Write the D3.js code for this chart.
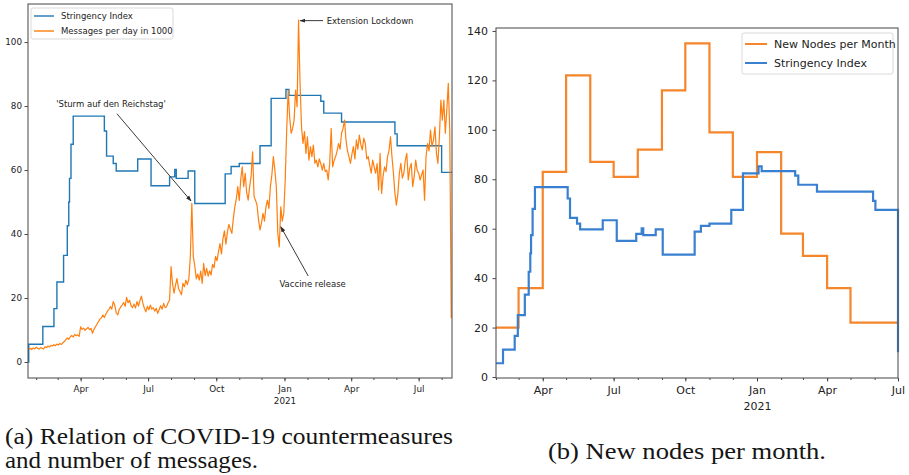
<!DOCTYPE html>
<html>
<head>
<meta charset="utf-8">
<script src="https://cdn.jsdelivr.net/npm/d3@7"></script>
<style>
  body { margin: 0; background: #fff; }
  svg { display: block; }
</style>
</head>
<body>
<svg id="chart" width="909" height="475"></svg>
<script>
const parse = d3.utcParse('%Y-%m-%d');

// Stringency index, as change points (value holds until the next date)
const stringencyDates = [
  '2020-01-21', '2020-01-22', '2020-02-10', '2020-02-25', '2020-02-29', '2020-03-09',
  '2020-03-14', '2020-03-16', '2020-03-17', '2020-03-19', '2020-03-22', '2020-05-03',
  '2020-05-06', '2020-05-15', '2020-05-19', '2020-06-17', '2020-07-05', '2020-07-30',
  '2020-08-06', '2020-08-08', '2020-08-24', '2020-09-02', '2020-10-13', '2020-10-21',
  '2020-11-01', '2020-11-29', '2020-12-14', '2021-01-03', '2021-01-07', '2021-02-19',
  '2021-02-23', '2021-03-19', '2021-05-30', '2021-06-02', '2021-08-01', '2021-08-15'
];
const stringencyValues = [
  0, 5.56, 11.11, 16.67, 25.0, 33.33,
  42.59, 50.0, 57.41, 68.06, 76.85, 72.22,
  64.35, 62.04, 59.72, 63.43, 55.09, 57.87,
  60.19, 57.41, 59.72, 49.54, 58.8, 61.11,
  62.04, 67.59, 82.41, 85.19, 83.33, 81.48,
  77.78, 75.0, 71.3, 67.59, 59.26, 59.26
];
// last value of the stringency line in panel (b), at its right edge
const stringencyEndB = 10;

// Messages per day in 1000, one value every second day
const msgStart = '2020-01-22';
const msgStepDays = 2;
const msgValues = [
  4.0, 4.3, 3.9, 4.4, 4.1, 4.6, 4.2, 4.0, 4.5, 4.3, 4.1, 4.8, 4.5,
  5.0, 4.7, 5.2, 5.0, 5.4, 5.1, 5.6, 5.3, 5.8, 5.5, 6.0, 6.4,
  7.0, 7.5, 7.1, 7.9, 8.3, 7.8, 8.6, 8.2, 8.5, 8.0,
  11.0, 10.2, 10.6, 9.9, 10.4, 10.8, 10.1, 10.5, 9.0, 10.2, 11.0, 11.8, 12.6, 13.4,
  13.8, 14.7, 13.9, 14.9, 15.8, 16.4, 17.3, 16.5, 18.9, 17.8, 15.4, 14.7, 16.4, 17.2,
  17.8, 18.6, 17.4, 20.2, 18.5, 19.3, 17.6, 17.0, 18.1, 16.9, 18.9, 17.5, 19.2, 20.6, 18.4,
  16.8, 15.7, 17.4, 16.3, 17.8, 16.5, 17.0, 15.9, 16.8, 15.2, 16.4, 17.6, 16.5, 18.3, 17.0, 17.3, 18.5, 19.4,
  29.8, 24.5, 21.5, 24.0, 26.1, 23.0, 22.0, 21.0, 24.6, 23.5, 25.6, 24.2, 26.0, 33.0,
  49.6, 33.0, 30.0, 26.0, 27.5, 25.6, 28.4, 24.6, 30.8, 27.0, 29.3, 26.8, 28.5, 27.2, 30.5,
  29.5, 33.0, 31.6, 34.5, 37.0, 33.8, 38.5, 41.0, 36.8, 40.6, 43.0, 41.5, 40.2, 44.8, 48.5,
  51.0, 54.8, 50.5, 57.0, 61.0, 54.8, 59.0, 53.0, 50.6, 54.8, 58.0, 65.7, 51.7, 50.5, 49.0,
  44.4, 41.3, 43.5, 46.5, 44.0, 48.5, 50.6, 48.0, 54.8, 58.5, 64.2, 60.0, 54.8, 40.2, 36.0,
  48.5, 44.0, 46.5, 56.9, 72.5, 85.0, 76.5, 71.5, 73.0, 75.6, 85.0, 79.8, 106.9, 87.0, 73.5,
  68.3, 72.0, 65.2, 70.4, 63.1, 67.3, 64.2, 67.8, 62.1, 63.1, 61.0, 63.5, 62.0, 60.0, 62.1,
  59.5, 60.0, 56.9, 62.0, 73.0, 61.0, 63.0, 64.2, 66.0, 68.3, 66.5, 71.5, 73.0, 75.6, 69.4,
  66.0, 64.2, 62.1, 65.0, 67.3, 63.5, 69.4, 66.5, 70.9, 68.0, 66.3, 70.0, 68.3, 63.5, 64.2,
  61.5, 59.0, 63.1, 61.0, 59.0, 62.0, 53.8, 65.2, 52.7, 58.0, 61.0, 59.5, 64.2, 66.0, 70.4,
  64.2, 59.0, 52.7, 49.0, 52.7, 59.0, 62.1, 57.5, 59.0, 63.0, 65.2, 56.9, 60.5, 62.1, 54.8,
  58.0, 63.1, 60.0, 59.0, 56.9, 58.5, 60.0, 50.6, 64.2, 68.3, 66.0, 72.5, 67.3, 69.4, 73.5,
  65.2, 62.1, 70.4, 81.9, 75.6, 81.9, 71.5, 78.8, 87.1, 72.0, 13.7
];

// New nodes per month (panel b), last entry closes the final step
const nodeMonths = [
  '2020-02-01', '2020-03-01', '2020-04-01', '2020-05-01', '2020-06-01', '2020-07-01',
  '2020-08-01', '2020-09-01', '2020-10-01', '2020-11-01', '2020-12-01', '2021-01-01',
  '2021-02-01', '2021-03-01', '2021-04-01', '2021-05-01', '2021-06-01', '2021-07-01'
];
const nodeValues = [20, 36, 83, 122, 87, 81, 92, 116, 135, 99, 81, 91, 58, 49, 36, 22, 22, 22];

// ticks
const majorTickDates = ['2020-04-01', '2020-07-01', '2020-10-01', '2021-01-01', '2021-04-01', '2021-07-01'];
const majorTickLabels = ['Apr', 'Jul', 'Oct', 'Jan', 'Apr', 'Jul'];
const yearLabel = '2021';
const yTicksA = [0, 20, 40, 60, 80, 100];
const yTicksB = [0, 20, 40, 60, 80, 100, 120, 140];

// annotations of panel (a): [date, value] pairs
const notes = [
  { label: "'Sturm auf den Reichstag'", at: ['2020-05-12', 80.6], anchor: 'middle',
    from: ['2020-05-20', 77.6], to: ['2020-08-28', 50.3] },
  { label: 'Extension Lockdown', at: ['2021-02-27', 106.7], anchor: 'start',
    from: ['2021-02-22', 106.7], to: ['2021-01-22', 106.7] },
  { label: 'Vaccine release', at: ['2021-02-08', 24.4], anchor: 'middle',
    from: ['2021-02-02', 26.9], to: ['2020-12-27', 42.3] }
];

const BLUE = '#1f77b4';
const ORANGE = '#ff7f0e';
const FONT = 'DejaVu Sans, sans-serif';

const svg = d3.select('#chart');

const strData = stringencyDates.map((d, i) => ({ date: parse(d), value: stringencyValues[i] }));
const msgData = msgValues.map((v, i) => ({
  date: d3.utcDay.offset(parse(msgStart), i * msgStepDays),
  value: v,
}));
const nodeData = nodeMonths.map((d, i) => ({ date: parse(d), value: nodeValues[i] }));

const defs = svg.append('defs');
defs.append('marker')
  .attr('id', 'head')
  .attr('viewBox', '0 0 10 10')
  .attr('refX', 9).attr('refY', 5)
  .attr('markerWidth', 6).attr('markerHeight', 6)
  .attr('markerUnits', 'userSpaceOnUse')
  .attr('orient', 'auto')
  .append('path')
  .attr('d', 'M0,1.5 L10,5 L0,8.5 Z')
  .attr('fill', '#2b2b2b');

function drawAxes(g, x, y, yTicks, box, fontSize, pad) {
  const [left, top, right, bottom] = box;

  g.append('g')
    .attr('transform', `translate(0,${bottom})`)
    .call(d3.axisBottom(x).tickValues(d3.utcMonth.range(x.domain()[0], d3.utcDay.offset(x.domain()[1], 1)))
      .tickSize(2).tickFormat(''))
    .call(a => a.select('.domain').remove());

  const xAxis = g.append('g')
    .attr('transform', `translate(0,${bottom})`)
    .call(d3.axisBottom(x).tickValues(majorTickDates.map(parse))
      .tickSize(3.5).tickPadding(pad.x)
      .tickFormat((d, i) => majorTickLabels[i]))
    .call(a => a.select('.domain').remove());

  xAxis.selectAll('.tick')
    .filter((d, i) => majorTickLabels[i] === 'Jan')
    .select('text')
    .append('tspan')
    .attr('x', 0)
    .attr('dy', pad.year)
    .text(yearLabel);

  g.append('g')
    .attr('transform', `translate(${left},0)`)
    .call(d3.axisLeft(y).tickValues(yTicks).tickSize(3.5).tickPadding(pad.y))
    .call(a => a.select('.domain').remove());

  g.selectAll('.tick line').attr('stroke', '#333').attr('stroke-width', 0.9);
  g.selectAll('.tick text')
    .attr('fill', '#222')
    .style('font-family', FONT)
    .style('font-size', fontSize + 'px');

  g.append('rect')
    .attr('x', left).attr('y', top)
    .attr('width', right - left).attr('height', bottom - top)
    .attr('fill', 'none')
    .attr('stroke', '#555')
    .attr('stroke-width', 1.1);
}

function drawLegend(g, items, pos, fontSize) {
  const [x0, y0, w, h, rowGap, lineLen] = pos;
  g.append('rect')
    .attr('x', x0).attr('y', y0).attr('width', w).attr('height', h)
    .attr('rx', 2)
    .attr('fill', '#fff').attr('fill-opacity', 0.85)
    .attr('stroke', '#d5d5d5').attr('stroke-width', 0.9);
  items.forEach((it, i) => {
    const cy = y0 + h / 2 + (i - (items.length - 1) / 2) * rowGap;
    g.append('line')
      .attr('x1', x0 + 3).attr('x2', x0 + 3 + lineLen)
      .attr('y1', cy).attr('y2', cy)
      .attr('stroke', it.color).attr('stroke-width', it.width);
    g.append('text')
      .attr('x', x0 + lineLen + 10).attr('y', cy)
      .attr('dy', '0.35em')
      .attr('fill', '#222')
      .style('font-family', FONT)
      .style('font-size', fontSize + 'px')
      .text(it.label);
  });
}

// ---------- panel (a)
{
  const box = [28, 4, 452, 378];
  const x = d3.scaleUtc().domain([parse('2020-01-21'), parse('2021-08-15')]).range([box[0], box[2]]);
  const y = d3.scaleLinear().domain([-5, 111.9]).range([box[3], box[1]]);
  const g = svg.append('g');

  defs.append('clipPath').attr('id', 'clipA')
    .append('rect').attr('x', box[0]).attr('y', box[1])
    .attr('width', box[2] - box[0]).attr('height', box[3] - box[1]);

  const plot = g.append('g').attr('clip-path', 'url(#clipA)');

  plot.append('path')
    .datum(strData)
    .attr('fill', 'none')
    .attr('stroke', BLUE)
    .attr('stroke-width', 1.4)
    .attr('d', d3.line().curve(d3.curveStepAfter).x(d => x(d.date)).y(d => y(d.value)));

  plot.append('path')
    .datum(msgData)
    .attr('fill', 'none')
    .attr('stroke', ORANGE)
    .attr('stroke-width', 1.2)
    .attr('stroke-linejoin', 'round')
    .attr('d', d3.line().x(d => x(d.date)).y(d => y(d.value)));

  drawAxes(g, x, y, yTicksA, box, 8.8, { x: 4.5, y: 2.5, year: '1.3em' });

  drawLegend(g, [
    { label: 'Stringency Index', color: BLUE, width: 1.4 },
    { label: 'Messages per day in 1000', color: ORANGE, width: 1.4 },
  ], [31, 8, 142, 31, 15, 20], 8.5);

  notes.forEach(n => {
    g.append('line')
      .attr('x1', x(parse(n.from[0]))).attr('y1', y(n.from[1]))
      .attr('x2', x(parse(n.to[0]))).attr('y2', y(n.to[1]))
      .attr('stroke', '#3a3a3a')
      .attr('stroke-width', 1)
      .attr('marker-end', 'url(#head)');
    g.append('text')
      .attr('x', x(parse(n.at[0]))).attr('y', y(n.at[1]))
      .attr('dy', '0.35em')
      .attr('text-anchor', n.anchor)
      .attr('fill', '#222')
      .style('font-family', FONT)
      .style('font-size', '8.5px')
      .text(n.label);
  });
}

// ---------- panel (b)
{
  const box = [496, 28, 898, 378];
  const x = d3.scaleUtc().domain([parse('2020-02-01'), parse('2021-07-01')]).range([box[0], box[2]]);
  const y = d3.scaleLinear().domain([-0.4, 141.2]).range([box[3], box[1]]);
  const g = svg.append('g');

  defs.append('clipPath').attr('id', 'clipB')
    .append('rect').attr('x', box[0]).attr('y', box[1] - 2)
    .attr('width', box[2] - box[0] + 2).attr('height', box[3] - box[1] + 2);

  const plot = g.append('g').attr('clip-path', 'url(#clipB)');

  const end = x.domain()[1];
  const strB = strData.filter(d => d.date < end).concat([{ date: end, value: stringencyEndB }]);

  plot.append('path')
    .datum(nodeData)
    .attr('fill', 'none')
    .attr('stroke', '#f5862b')
    .attr('stroke-width', 2.2)
    .attr('d', d3.line().curve(d3.curveStepAfter).x(d => x(d.date)).y(d => y(d.value)));

  plot.append('path')
    .datum(strB)
    .attr('fill', 'none')
    .attr('stroke', '#3a80d0')
    .attr('stroke-width', 2.2)
    .attr('d', d3.line().curve(d3.curveStepAfter).x(d => x(d.date)).y(d => y(d.value)));

  drawAxes(g, x, y, yTicksB, box, 11, { x: 4.5, y: 4.5, year: '1.45em' });

  drawLegend(g, [
    { label: 'New Nodes per Month', color: '#f5862b', width: 2 },
    { label: 'Stringency Index', color: '#3a80d0', width: 2 },
  ], [742, 33, 151, 41, 19, 22], 11);
}

// ---------- captions
const captions = [
  { text: '(a) Relation of COVID-19 countermeasures', x: 5, y: 444, w: 448 },
  { text: 'and number of messages.', x: 5, y: 468, w: 253 },
  { text: '(b) New nodes per month.', x: 548, y: 459, w: 278 },
];
svg.selectAll('text.caption')
  .data(captions)
  .join('text')
  .attr('class', 'caption')
  .attr('x', d => d.x)
  .attr('y', d => d.y)
  .attr('textLength', d => d.w)
  .attr('lengthAdjust', 'spacingAndGlyphs')
  .attr('fill', '#151515')
  .style('font-family', 'Liberation Serif, DejaVu Serif, serif')
  .style('font-size', '23px')
  .text(d => d.text);
</script>
</body>
</html>
